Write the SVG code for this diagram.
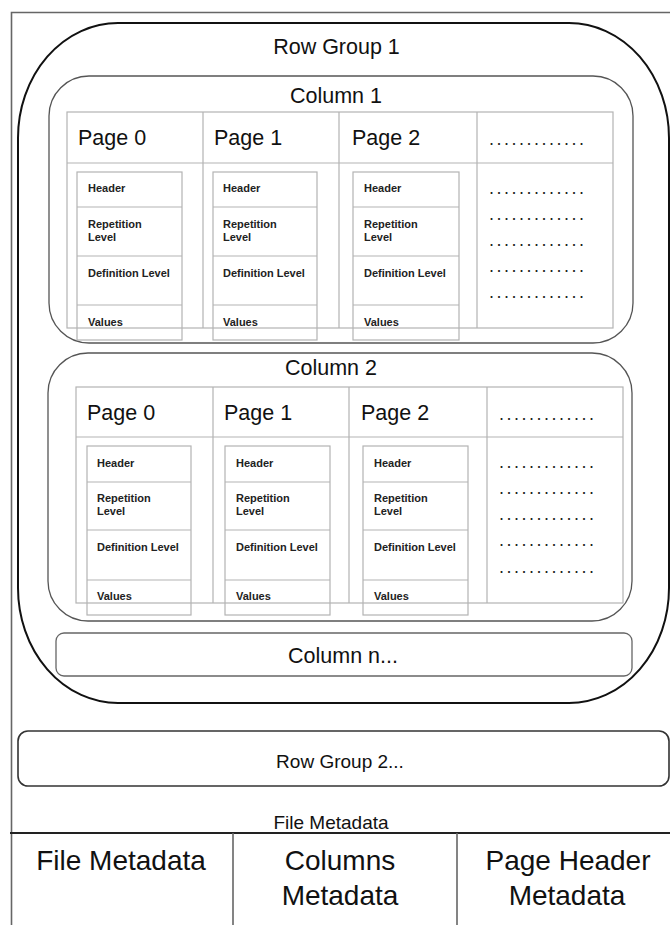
<svg xmlns="http://www.w3.org/2000/svg" width="670" height="925" viewBox="0 0 670 925">
<style>
text{font-family:"Liberation Sans",Arial,sans-serif;fill:#111}
.big{font-size:21.5px}
.mid{font-size:19px}
.bot{font-size:28px}
.ctr{text-anchor:middle}
.sm{font-size:11px;font-weight:bold;fill:#222}
.dots{font-size:18px;letter-spacing:2.5px;fill:#222}
.grid{fill:none;stroke:#b3b3b3;stroke-width:1.2}
.col{fill:none;stroke:#555;stroke-width:1.3}
</style>
<rect width="670" height="925" fill="#fff"/>
<g id="frame">
<path d="M11.5,925 V12.5 H670" fill="none" stroke="#666" stroke-width="1.6"/>
</g>
<g id="rowgroup1">
<rect x="18" y="23" width="651" height="680" rx="100" ry="115" fill="none" stroke="#111" stroke-width="2"/>
<text class="big ctr" x="336.5" y="54">Row Group 1</text>
</g>
<g id="column1">
<rect class="col" x="49" y="76" width="584" height="267" rx="40" ry="40"/>
<text class="big ctr" x="336" y="103">Column 1</text>
<rect class="grid" x="67" y="112" width="546" height="216"/>
<path class="grid" d="M67,163H613M203,112V328M339,112V328M477,112V328"/>
<text class="big" x="78" y="145">Page 0</text>
<text class="big" x="214" y="145">Page 1</text>
<text class="big" x="352" y="145">Page 2</text>
<text class="dots" x="489" y="145">.............</text>
<g id="c1p0">
<rect class="grid" x="77" y="172" width="105" height="168"/>
<path class="grid" d="M77,207H182M77,256H182M77,305H182"/>
<text class="sm" x="88" y="192">Header</text>
<text class="sm" x="88" y="228">Repetition</text>
<text class="sm" x="88" y="241">Level</text>
<text class="sm" x="88" y="277">Definition Level</text>
<text class="sm" x="88" y="326">Values</text>
</g>
<g id="c1p1">
<rect class="grid" x="213" y="172" width="104" height="168"/>
<path class="grid" d="M213,207H317M213,256H317M213,305H317"/>
<text class="sm" x="223" y="192">Header</text>
<text class="sm" x="223" y="228">Repetition</text>
<text class="sm" x="223" y="241">Level</text>
<text class="sm" x="223" y="277">Definition Level</text>
<text class="sm" x="223" y="326">Values</text>
</g>
<g id="c1p2">
<rect class="grid" x="353" y="172" width="106" height="168"/>
<path class="grid" d="M353,207H459M353,256H459M353,305H459"/>
<text class="sm" x="364" y="192">Header</text>
<text class="sm" x="364" y="228">Repetition</text>
<text class="sm" x="364" y="241">Level</text>
<text class="sm" x="364" y="277">Definition Level</text>
<text class="sm" x="364" y="326">Values</text>
</g>
<text class="dots" x="489" y="194">.............</text>
<text class="dots" x="489" y="220">.............</text>
<text class="dots" x="489" y="246">.............</text>
<text class="dots" x="489" y="272">.............</text>
<text class="dots" x="489" y="298">.............</text>
</g>
<g id="column2">
<rect class="col" x="48" y="353" width="584" height="268" rx="40" ry="40"/>
<text class="big ctr" x="331" y="375">Column 2</text>
<rect class="grid" x="76" y="387" width="547" height="216"/>
<path class="grid" d="M76,437H623M213,387V603M349,387V603M487,387V603"/>
<text class="big" x="87" y="420">Page 0</text>
<text class="big" x="224" y="420">Page 1</text>
<text class="big" x="361" y="420">Page 2</text>
<text class="dots" x="499" y="420">.............</text>
<g id="c2p0">
<rect class="grid" x="87" y="446" width="104" height="169"/>
<path class="grid" d="M87,482H191M87,530H191M87,580H191"/>
<text class="sm" x="97" y="467">Header</text>
<text class="sm" x="97" y="502">Repetition</text>
<text class="sm" x="97" y="515">Level</text>
<text class="sm" x="97" y="551">Definition Level</text>
<text class="sm" x="97" y="600">Values</text>
</g>
<g id="c2p1">
<rect class="grid" x="225" y="446" width="105" height="169"/>
<path class="grid" d="M225,482H330M225,530H330M225,580H330"/>
<text class="sm" x="236" y="467">Header</text>
<text class="sm" x="236" y="502">Repetition</text>
<text class="sm" x="236" y="515">Level</text>
<text class="sm" x="236" y="551">Definition Level</text>
<text class="sm" x="236" y="600">Values</text>
</g>
<g id="c2p2">
<rect class="grid" x="363" y="446" width="105" height="169"/>
<path class="grid" d="M363,482H468M363,530H468M363,580H468"/>
<text class="sm" x="374" y="467">Header</text>
<text class="sm" x="374" y="502">Repetition</text>
<text class="sm" x="374" y="515">Level</text>
<text class="sm" x="374" y="551">Definition Level</text>
<text class="sm" x="374" y="600">Values</text>
</g>
<text class="dots" x="499" y="468">.............</text>
<text class="dots" x="499" y="494">.............</text>
<text class="dots" x="499" y="520">.............</text>
<text class="dots" x="499" y="546">.............</text>
<text class="dots" x="499" y="573">.............</text>
</g>
<g id="columnn">
<rect x="56" y="633" width="576" height="43" rx="8" ry="8" fill="none" stroke="#666" stroke-width="1.3"/>
<text class="big ctr" x="343" y="663">Column n...</text>
</g>
<g id="rowgroup2">
<rect x="18" y="731" width="651" height="55" rx="10" ry="10" fill="none" stroke="#333" stroke-width="1.6"/>
<text class="mid ctr" x="340" y="768">Row Group 2...</text>
</g>
<g id="filemeta">
<text class="mid ctr" x="331" y="829">File Metadata</text>
<path d="M10,833H670" stroke="#222" stroke-width="2" fill="none"/>
<path d="M233,833V925M457,833V925" stroke="#666" stroke-width="1.6" fill="none"/>
<text class="bot ctr" x="121" y="870">File Metadata</text>
<text class="bot ctr" x="340" y="870">Columns</text>
<text class="bot ctr" x="340" y="905">Metadata</text>
<text class="bot ctr" x="568" y="870">Page Header</text>
<text class="bot ctr" x="567" y="905">Metadata</text>
</g>
<g id="connectors"></g>
</svg>
